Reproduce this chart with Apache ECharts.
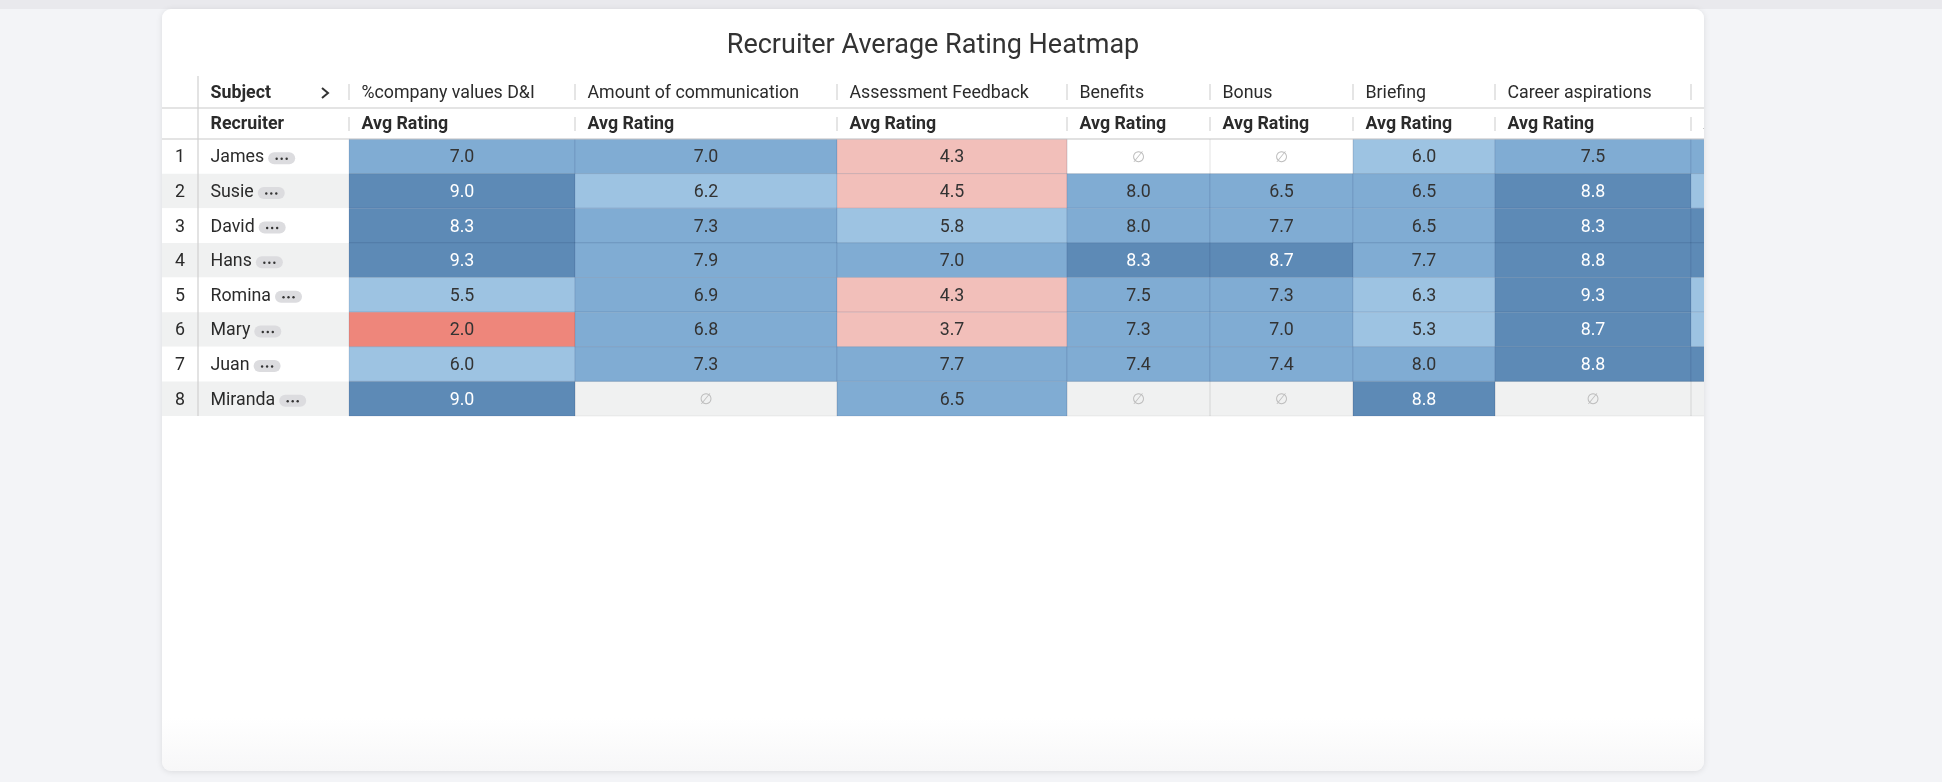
<!DOCTYPE html>
<html><head><meta charset="utf-8">
<script src="https://cdn.jsdelivr.net/npm/echarts@6/dist/echarts.min.js"></script>
<style>
html,body{margin:0;padding:0;width:1942px;height:782px;overflow:hidden;background:#f3f4f7;font-family:Roboto,sans-serif}
#topbar{position:absolute;left:0;top:0;width:1942px;height:9px;background:#e9e9ed}
#card{position:absolute;left:162px;top:9px;width:1542px;height:762px;background:linear-gradient(#ffffff 93%, #f7f7f8);border-radius:9px;box-shadow:0 1px 6px rgba(0,0,0,0.10);overflow:hidden}
#chart{position:absolute;left:0;top:0;width:1542px;height:762px}
</style></head><body>
<div id="topbar"></div>
<div id="card"><div id="chart"></div></div>
<script>
// ---- data ----
const chartTitle = 'Recruiter Average Rating Heatmap';
const subjects = ['%company values D&I', 'Amount of communication', 'Assessment Feedback', 'Benefits', 'Bonus', 'Briefing', 'Career aspirations', 'Company culture'];
const recruiters = ['James', 'Susie', 'David', 'Hans', 'Romina', 'Mary', 'Juan', 'Miranda'];
const measureLabel = 'Avg Rating';
const companyValuesDI   = [7.0, 9.0, 8.3, 9.3, 5.5, 2.0, 6.0, 9.0];
const amountOfComm      = [7.0, 6.2, 7.3, 7.9, 6.9, 6.8, 7.3, null];
const assessmentFeedback= [4.3, 4.5, 5.8, 7.0, 4.3, 3.7, 7.7, 6.5];
const benefits          = [null, 8.0, 8.0, 8.3, 7.5, 7.3, 7.4, null];
const bonus             = [null, 6.5, 7.7, 8.7, 7.3, 7.0, 7.4, null];
const briefing          = [6.0, 6.5, 6.5, 7.7, 6.3, 5.3, 8.0, 8.8];
const careerAspirations = [7.5, 8.8, 8.3, 8.8, 9.3, 8.7, 8.8, null];
const companyCulture    = [7.3, 6.2, 8.5, 8.6, 6.4, 6.3, 8.9, null];
const columns = [companyValuesDI, amountOfComm, assessmentFeedback, benefits, bonus, briefing, careerAspirations, companyCulture];

// ---- layout / style ----
const layout = {
  visibleW: 1542,
  colWidths: [36, 151, 226, 262, 230, 143, 143, 142, 196, 220],
  headerHeights: [32, 31],
  rowHeight: 34.625,
  gridTop: 67
};
const FONT = 'Roboto, sans-serif';
const FS = 17.8;
const totalW = layout.colWidths.reduce((a, b) => a + b, 0);
const headTotal = layout.headerHeights[0] + layout.headerHeights[1];
const totalH = headTotal + recruiters.length * layout.rowHeight;
function colStart(c) { let s = 0; for (let k = 0; k < c; k++) s += layout.colWidths[k]; return s; }
function rowTop(r) { return headTotal + r * layout.rowHeight; }

const measureCtx = document.createElement('canvas').getContext('2d');
function textW(t, font) { measureCtx.font = font; return measureCtx.measureText(t).width; }

const filled = [], empty = [];
columns.forEach((vals, j) => vals.forEach((v, i) => {
  if (v === null) empty.push([j, i]); else filled.push([j, i, v]);
}));

function rectBetween(api, x0, y0, x1, y1) {
  const p0 = api.coord([x0, y0]), p1 = api.coord([x1, y1]);
  return { x: p0[0], y: p0[1], width: p1[0] - p0[0], height: p1[1] - p0[1] };
}

const chart = echarts.init(document.getElementById('chart'));
chart.setOption({
  animation: false,
  title: { text: chartTitle, left: 'center', top: 19,
    textStyle: { fontFamily: FONT, fontSize: 27, fontWeight: 'normal', color: '#333' } },
  grid: { left: 0, top: layout.gridTop, width: layout.visibleW, height: totalH },
  xAxis: { type: 'value', min: 0, max: layout.visibleW, show: false },
  yAxis: { type: 'value', min: 0, max: totalH, inverse: true, show: false },
  visualMap: { type: 'piecewise', show: false, seriesIndex: 1, dimension: 2,
    pieces: [
      { lt: 3, color: '#ee867b' },
      { gte: 3, lt: 5, color: '#f2bfba' },
      { gte: 5, lt: 6.5, color: '#9dc3e2' },
      { gte: 6.5, lt: 8.25, color: '#80acd3' },
      { gte: 8.25, color: '#5d8ab6' }
    ] },
  series: [
    { // row backgrounds, numbers, names
      type: 'custom', data: recruiters.map((n, i) => [i]),
      renderItem: function (params, api) {
        const i = api.value(0);
        const y0 = rowTop(i), y1 = y0 + layout.rowHeight;
        const bg = rectBetween(api, 0, y0, totalW, y1);
        const mid = api.coord([0, (y0 + y1) / 2]);
        const numP = api.coord([layout.colWidths[0] / 2, (y0 + y1) / 2 + 1.5]);
        const nameP = api.coord([layout.colWidths[0] + 12.5, (y0 + y1) / 2 + 1.5]);
        const name = recruiters[i];
        const w = textW(name, FS + 'px Roboto');
        const px = nameP[0] + w + 4, py = mid[1] + 2;
        return { type: 'group', children: [
          { type: 'rect', shape: bg, style: { fill: i % 2 ? '#f0f1f1' : '#ffffff' } },
          { type: 'text', style: { text: String(i + 1), x: numP[0], y: numP[1], align: 'center', verticalAlign: 'middle', fill: '#2b2b2b', font: FS + 'px ' + FONT } },
          { type: 'text', style: { text: name, x: nameP[0], y: nameP[1], align: 'left', verticalAlign: 'middle', fill: '#2b2b2b', font: FS + 'px ' + FONT } },
          { type: 'rect', shape: { x: px, y: py - 6, width: 27, height: 12, r: 6 }, style: { fill: '#dcdcdf' } },
          { type: 'circle', shape: { cx: px + 8.5, cy: py + 0.5, r: 1.2 }, style: { fill: '#333' } },
          { type: 'circle', shape: { cx: px + 13.5, cy: py + 0.5, r: 1.2 }, style: { fill: '#333' } },
          { type: 'circle', shape: { cx: px + 18.5, cy: py + 0.5, r: 1.2 }, style: { fill: '#333' } }
        ] };
      }
    },
    { // rated cells
      type: 'custom', data: filled, encode: { x: 0, y: 1 },
      renderItem: function (params, api) {
        const j = api.value(0), i = api.value(1), v = api.value(2);
        const c = j + 2;
        const x0 = colStart(c), y0 = rowTop(i);
        const r = rectBetween(api, x0, y0, x0 + layout.colWidths[c], y0 + layout.rowHeight);
        return { type: 'group', children: [
          { type: 'rect', shape: r, style: { fill: api.visual('color'), stroke: 'rgba(30,60,100,0.12)', lineWidth: 1 } },
          { type: 'text', style: { text: v.toFixed(1), x: r.x + r.width / 2, y: r.y + r.height / 2 + 1.5, align: 'center', verticalAlign: 'middle', fill: v >= 8.25 ? '#ffffff' : '#333333', font: FS + 'px ' + FONT } }
        ] };
      }
    },
    { // empty cells
      type: 'custom', data: empty, encode: { x: 0, y: 1 },
      renderItem: function (params, api) {
        const j = api.value(0), i = api.value(1);
        const c = j + 2;
        const x0 = colStart(c), y0 = rowTop(i);
        const r = rectBetween(api, x0, y0, x0 + layout.colWidths[c], y0 + layout.rowHeight);
        return { type: 'group', children: [
          { type: 'rect', shape: r, style: { fill: 'none', stroke: 'rgba(0,0,0,0.06)', lineWidth: 1 } },
          { type: 'text', style: { text: '\u2205', x: r.x + r.width / 2, y: r.y + r.height / 2 + 1.5, align: 'center', verticalAlign: 'middle', fill: '#bdbdbd', font: '15px DejaVu Sans' } }
        ] };
      }
    },
    { // headers
      type: 'custom', data: [1, 2, 3, 4, 5, 6, 7, 8, 9].map(c => [c]),
      renderItem: function (params, api) {
        const c = api.value(0);
        const x0 = colStart(c);
        const h1 = layout.headerHeights[0];
        const top1 = c === 1 ? 'Subject' : subjects[c - 2];
        const top2 = c === 1 ? 'Recruiter' : measureLabel;
        const p1 = api.coord([x0 + 12.5, h1 / 2 + 2]);
        const p2 = api.coord([x0 + 12.5, h1 + layout.headerHeights[1] / 2 + 1.5]);
        const kids = [
          { type: 'text', style: { text: top1, x: p1[0], y: p1[1], align: 'left', verticalAlign: 'middle', fill: '#2b2b2b', font: (c === 1 ? 'bold ' : '') + FS + 'px ' + FONT } },
          { type: 'text', style: { text: top2, x: p2[0], y: p2[1], align: 'left', verticalAlign: 'middle', fill: '#2b2b2b', font: 'bold ' + FS + 'px ' + FONT } }
        ];
        if (c === 1) {
          const e = x0 + layout.colWidths[1];
          const a = api.coord([e - 27, 12]), b = api.coord([e - 21, 17]), d = api.coord([e - 27, 22]);
          kids.push({ type: 'polyline', shape: { points: [a, b, d] }, style: { stroke: '#333', lineWidth: 2, fill: 'none' } });
        } else {
          const s1 = api.coord([x0, 8]), s2 = api.coord([x0, 24]);
          const s3 = api.coord([x0, h1 + 9]), s4 = api.coord([x0, h1 + 23]);
          kids.push({ type: 'line', shape: { x1: s1[0], y1: s1[1], x2: s2[0], y2: s2[1] }, style: { stroke: '#dcdcdc', lineWidth: 1.5 } });
          kids.push({ type: 'line', shape: { x1: s3[0], y1: s3[1], x2: s4[0], y2: s4[1] }, style: { stroke: '#dcdcdc', lineWidth: 1.5 } });
        }
        if (c === 1) {
          const l1a = api.coord([0, h1]), l1b = api.coord([totalW, h1]);
          const l2a = api.coord([0, headTotal]), l2b = api.coord([totalW, headTotal]);
          const va = api.coord([layout.colWidths[0], 0]), vb = api.coord([layout.colWidths[0], totalH]);
          kids.push({ type: 'line', shape: { x1: l1a[0], y1: l1a[1], x2: l1b[0], y2: l1b[1] }, style: { stroke: '#c9c9c9', lineWidth: 1.2 } });
          kids.push({ type: 'line', shape: { x1: l2a[0], y1: l2a[1], x2: l2b[0], y2: l2b[1] }, style: { stroke: '#c9c9c9', lineWidth: 1.2 } });
          kids.push({ type: 'line', shape: { x1: va[0], y1: va[1], x2: vb[0], y2: vb[1] }, style: { stroke: '#d0d0d0', lineWidth: 1.2 } });
        }
        return { type: 'group', children: kids };
      }
    }
  ]
});
</script>
</body></html>
